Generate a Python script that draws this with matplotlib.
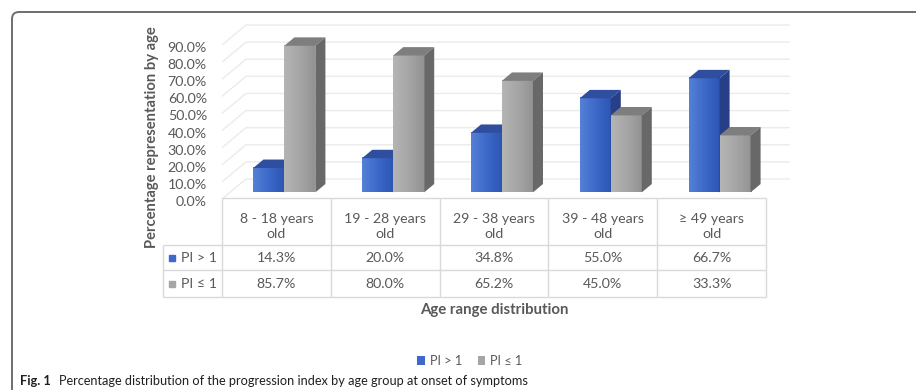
import matplotlib
matplotlib.use("Agg")
import matplotlib.pyplot as plt
import numpy as np
from matplotlib.patches import Polygon, FancyBboxPatch, Patch
from matplotlib.transforms import blended_transform_factory, IdentityTransform
from matplotlib.colors import LinearSegmentedColormap

# ---- data ----
categories = ["8 - 18 years\nold", "19 - 28 years\nold", "29 - 38 years\nold",
              "39 - 48 years\nold", "\u2265 49 years\nold"]
pi_above = [14.3, 20.0, 34.8, 55.0, 66.7]
pi_below = [85.7, 80.0, 65.2, 45.0, 33.3]
series_names = ["PI > 1", "PI \u2264 1"]
y_ticks = [0, 10, 20, 30, 40, 50, 60, 70, 80, 90]
y_title = "Percentage representation by age"
x_title = "Age range distribution"
caption_lead = "Fig. 1"
caption_text = "Percentage distribution of the progression index by age group at onset of symptoms"

FONT = ["Lato", "DejaVu Sans"]
plt.rcParams["font.family"] = FONT
TXT = "#595959"
GRID = "#ebebeb"
TABLE = "#d9d9d9"
FS = 10.2

W, H, DPI = 916, 390, 100
fig = plt.figure(figsize=(W / DPI, H / DPI), dpi=DPI)
fig.patch.set_facecolor("white")

# pixel geometry of the front plane
col_px = 108.8
x0_px = 222.0
base_px = 199.0
pct_px = 1.711
xlim = (-0.6, 5.5)
ylim = (-2.0, 104.0)
left = x0_px + col_px * xlim[0]
right = x0_px + col_px * xlim[1]
bot = base_px - pct_px * ylim[0]
top = base_px - pct_px * ylim[1]
ax = fig.add_axes([left / W, 1 - bot / H, (right - left) / W, (bot - top) / H])
ax.set_xlim(xlim)
ax.set_ylim(ylim)
ax.axis("off")

n = len(categories)
DX = 24.0 / col_px     # depth vector of the 3-D box, data units
DY = 20.0 / pct_px
BW = 31.0 / col_px     # bar width
F0, F1 = 0.33, 0.75    # front / back depth fraction of the bars

# walls: left side wall and back wall gridlines
for v in y_ticks:
    ax.plot([0, DX, n + DX], [v, v + DY, v + DY], color=GRID, lw=1.0,
            zorder=1, solid_capstyle="butt")

blue_cmap = LinearSegmentedColormap.from_list("b", ["#5580d6", "#3d69ca", "#2d56b4"])
gray_cmap = LinearSegmentedColormap.from_list("g", ["#b5b5b5", "#a6a6a6", "#939393"])
grad = np.linspace(0, 1, 64).reshape(1, -1)

styles = [
    dict(cmap=blue_cmap, top="#2f4f9e", side="#263f86"),
    dict(cmap=gray_cmap, top="#7e7e7e", side="#686868"),
]


def draw_bar(xl, h, st, z):
    b = F0 * DY
    d = F1 - F0
    ax.imshow(grad, cmap=st["cmap"], extent=(xl, xl + BW, b, b + h),
              aspect="auto", zorder=z, interpolation="bilinear")
    topf = [(xl, b + h), (xl + BW, b + h), (xl + BW + d * DX, b + h + d * DY),
            (xl + d * DX, b + h + d * DY)]
    ax.add_patch(Polygon(topf, closed=True, fc=st["top"], ec="none", zorder=z))
    side = [(xl + BW, b), (xl + BW, b + h), (xl + BW + d * DX, b + h + d * DY),
            (xl + BW + d * DX, b + d * DY)]
    ax.add_patch(Polygon(side, closed=True, fc=st["side"], ec="none", zorder=z))


z = 3
for i in range(n):
    xc = i + 0.5 + F0 * DX
    draw_bar(xc - BW, pi_above[i], styles[0], z)
    z += 1
    draw_bar(xc, pi_below[i], styles[1], z)
    z += 1

# value axis labels
for v in y_ticks:
    ax.annotate(f"{v:.1f}%", xy=(0, v), xycoords="data", xytext=(-15, -3),
                textcoords="offset pixels", ha="right", va="center",
                fontsize=FS, color=TXT)

fig.text(152 / W, 1 - 137 / H, y_title, rotation=90, ha="center", va="center",
         fontsize=10.6, fontweight="bold", color=TXT)

# ---- data table ----
tr = blended_transform_factory(ax.transData, fig.transFigure)


def fy(py):
    return 1 - py / H


hx = (163 - x0_px) / col_px
row_y = [198, 245, 270, 297]
kw = dict(color=TABLE, lw=1.0, transform=tr, clip_on=False, solid_capstyle="butt")
ax.plot([0, n], [fy(row_y[0])] * 2, **kw)
for py in row_y[1:]:
    ax.plot([hx, n], [fy(py)] * 2, **kw)
ax.plot([hx, hx], [fy(row_y[1]), fy(row_y[3])], **kw)
for i in range(n + 1):
    ax.plot([i, i], [fy(row_y[0]), fy(row_y[3])], **kw)

for i, lab in enumerate(categories):
    ax.text(i + 0.5, fy(226), lab, transform=tr, ha="center", va="center",
            fontsize=FS, color=TXT, linespacing=1.3)
    ax.text(i + 0.5, fy(258), f"{pi_above[i]:.1f}%", transform=tr, ha="center",
            va="center", fontsize=FS, color=TXT)
    ax.text(i + 0.5, fy(284), f"{pi_below[i]:.1f}%", transform=tr, ha="center",
            va="center", fontsize=FS, color=TXT)

key_colors = ["#3d69ca", "#a6a6a6"]
for name, col, py in zip(series_names, key_colors, [258, 284]):
    ax.plot([(172 - x0_px) / col_px], [fy(py)], marker="s", ms=5, color=col,
            transform=tr, clip_on=False, ls="none")
    ax.text((181 - x0_px) / col_px, fy(py), name, transform=tr, ha="left",
            va="center", fontsize=FS, color=TXT)

fig.text(494 / W, fy(310), x_title, ha="center", va="center", fontsize=10.8,
         fontweight="bold", color=TXT)

# legend
handles = [Patch(fc=c, ec="none") for c in key_colors]
fig.legend(handles, series_names, loc="center", bbox_to_anchor=(470 / W, fy(361)),
           ncol=2, frameon=False, fontsize=9.2, handlelength=0.6, handleheight=0.6,
           handletextpad=0.4, columnspacing=1.2, labelcolor=TXT)

# caption
t1 = fig.text(20 / W, fy(381), caption_lead, ha="left", va="center", fontsize=9.2,
              fontweight="bold", color="#231f20")
ax.annotate(caption_text, xy=(1, 0.5), xycoords=t1, xytext=(6, 0),
            textcoords="offset points", ha="left", va="center", fontsize=9.2,
            color="#231f20", annotation_clip=False)

# rounded frame around the figure panel
frame = FancyBboxPatch((12, -30), 960, H - 12 + 30,
                       boxstyle="round,pad=0,rounding_size=7",
                       transform=IdentityTransform(), fc="none", ec="#6e6e6e",
                       lw=1.4)
fig.patches.append(frame)

fig.savefig("out.png", dpi=DPI)
